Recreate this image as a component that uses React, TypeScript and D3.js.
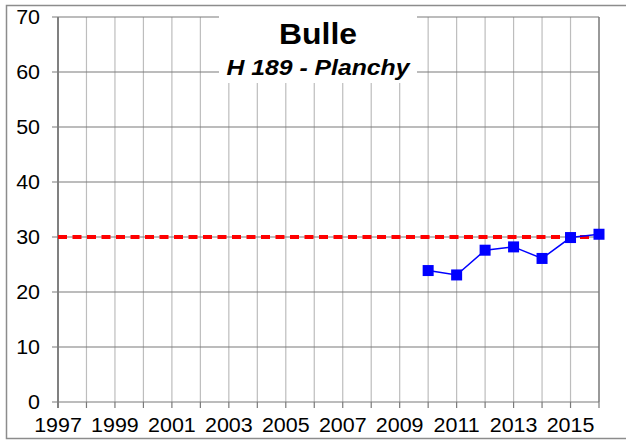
import { useEffect, useRef } from "react";
import * as d3 from "d3";

const years = [2010, 2011, 2012, 2013, 2014, 2015, 2016];
const values = [23.9, 23.1, 27.6, 28.2, 26.1, 29.9, 30.5];
const limitValue = 30;
const yTicks = [0, 10, 20, 30, 40, 50, 60, 70];
const xLabelYears = [1997, 1999, 2001, 2003, 2005, 2007, 2009, 2011, 2013, 2015];
const title = "Bulle";
const subtitle = "H 189 - Planchy";

function App() {
  const ref = useRef<SVGSVGElement>(null);

  const width = 626;
  const height = 444;
  const margin = { top: 17, right: 27, bottom: 42, left: 58 };

  useEffect(() => {
    const svg = d3.select(ref.current);
    svg.selectAll("*").remove();

    const x = d3.scaleLinear().domain([1997, 2016]).range([margin.left, width - margin.right]);
    const y = d3.scaleLinear().domain([0, 70]).range([height - margin.bottom, margin.top]);
    const font = "'Liberation Sans', Arial, sans-serif";
    const sx = 1.1;

    // outer frame
    svg.append("rect")
      .attr("x", 6.5).attr("y", 5.5)
      .attr("width", 640).attr("height", 433)
      .attr("fill", "white").attr("stroke", "#8c8c8c").attr("stroke-width", 1.5);

    // vertical grid
    svg.append("g").selectAll("line")
      .data(d3.range(1998, 2017))
      .join("line")
      .attr("x1", d => x(d)).attr("x2", d => x(d))
      .attr("y1", y(70)).attr("y2", y(0))
      .attr("stroke", d => d === 2016 ? "#999" : "#bdbdbd")
      .attr("stroke-width", d => d === 2016 ? 2 : 1.2);

    // horizontal grid
    svg.append("g").selectAll("line")
      .data(yTicks)
      .join("line")
      .attr("x1", margin.left - 6).attr("x2", x(2016))
      .attr("y1", d => y(d)).attr("y2", d => y(d))
      .attr("stroke", "#7a7a7a").attr("stroke-width", 1.2);

    // left axis
    svg.append("line")
      .attr("x1", x(1997)).attr("x2", x(1997))
      .attr("y1", y(70)).attr("y2", y(0) + 6)
      .attr("stroke", "#808080").attr("stroke-width", 2);

    // x ticks
    svg.append("g").selectAll("line")
      .data(d3.range(1998, 2017))
      .join("line")
      .attr("x1", d => x(d)).attr("x2", d => x(d))
      .attr("y1", y(0)).attr("y2", y(0) + 6)
      .attr("stroke", "#7a7a7a").attr("stroke-width", 1.2);

    // title box
    svg.append("rect")
      .attr("x", 219).attr("y", margin.top - 2)
      .attr("width", 198).attr("height", 83 - margin.top + 2)
      .attr("fill", "white");

    svg.append("text")
      .attr("transform", `translate(318,44) scale(${sx},1)`)
      .attr("text-anchor", "middle")
      .style("font-family", font).style("font-weight", "bold").style("font-size", "29px")
      .text(title);

    svg.append("text")
      .attr("transform", `translate(318,75) scale(${sx},1)`)
      .attr("text-anchor", "middle")
      .style("font-family", font).style("font-weight", "bold").style("font-style", "italic")
      .style("font-size", "22.5px")
      .text(subtitle);

    // y labels
    svg.append("g").selectAll("text")
      .data(yTicks)
      .join("text")
      .attr("transform", d => `translate(40,${y(d) + 7}) scale(${sx},1)`)
      .attr("text-anchor", "end")
      .style("font-family", font).style("font-size", "19.5px")
      .text(d => d);

    // x labels
    svg.append("g").selectAll("text")
      .data(xLabelYears)
      .join("text")
      .attr("transform", d => `translate(${x(d)},432) scale(${sx},1)`)
      .attr("text-anchor", "middle")
      .style("font-family", font).style("font-size", "19.5px")
      .text(d => d);

    // limit line
    svg.append("line")
      .attr("x1", x(1997)).attr("x2", x(2016))
      .attr("y1", y(limitValue)).attr("y2", y(limitValue))
      .attr("stroke", "#ff0000").attr("stroke-width", 4)
      .attr("stroke-dasharray", "9,5.5");

    // series
    const data = years.map((yr, i) => ({ yr, v: values[i] }));
    const line = d3.line<{ yr: number; v: number }>().x(d => x(d.yr)).y(d => y(d.v));
    svg.append("path")
      .datum(data)
      .attr("d", line)
      .attr("fill", "none").attr("stroke", "#0000ff").attr("stroke-width", 1.5);

    svg.append("g").selectAll("rect")
      .data(data)
      .join("rect")
      .attr("x", d => x(d.yr) - 5.5).attr("y", d => y(d.v) - 5.5)
      .attr("width", 11).attr("height", 11)
      .attr("fill", "#0000ff");
  }, []);

  return (
    <svg ref={ref} width={width} height={height} style={{ position: "absolute", left: 0, top: 0 }}></svg>
  );
}

export default App;
